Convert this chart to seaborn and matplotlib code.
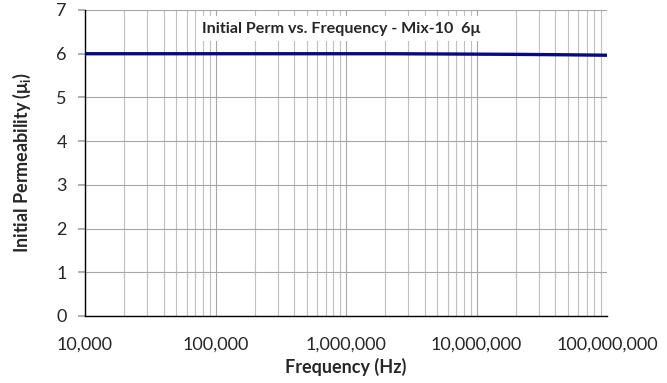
import matplotlib
matplotlib.use("Agg")
import matplotlib.pyplot as plt
import matplotlib.ticker as mticker
import seaborn as sns
import pandas as pd

freq_hz = [1e4, 2e4, 5e4, 1e5, 2e5, 5e5, 1e6, 2e6, 5e6, 1e7, 2e7, 5e7, 1e8]
perm = [6.00, 6.00, 6.00, 6.00, 6.00, 6.00, 6.00, 6.00, 5.995, 5.99, 5.985, 5.975, 5.965]
title = "Initial Perm vs. Frequency - Mix-10  6\u03bc"
xlabel = "Frequency (Hz)"
ylabel = "Initial Permeability (\u03bc$_\\mathregular{i}$)"

sns.set_theme(style="white")
plt.rcParams['font.family'] = ['Lato', 'DejaVu Sans']

fig = plt.figure(figsize=(6.67, 3.83), dpi=100)
ax = fig.add_axes([85/667, 1 - 316/383, (607 - 85)/667, (316 - 10)/383])

df = pd.DataFrame({"f": freq_hz, "p": perm})
sns.lineplot(data=df, x="f", y="p", ax=ax, color="#0a0a80", linewidth=2.4, zorder=3)

ax.set_xscale("log")
ax.set_xlim(1e4, 1e8)
ax.set_ylim(0, 7)
ax.yaxis.set_major_locator(mticker.MultipleLocator(1))
ax.xaxis.set_major_locator(mticker.LogLocator(base=10))
ax.xaxis.set_minor_locator(mticker.LogLocator(base=10, subs=range(2, 10)))
ax.xaxis.set_minor_formatter(mticker.NullFormatter())
ax.xaxis.set_major_formatter(mticker.FuncFormatter(lambda v, p: f"{int(round(v)):,}"))

ax.grid(True, which="major", axis="both", color="#a6a6a6", linewidth=0.8)
ax.grid(True, which="minor", axis="x", color="#bfbfbf", linewidth=0.8)
ax.set_axisbelow(True)

for s in ["top", "right"]:
    ax.spines[s].set_visible(False)
ax.spines["left"].set_color("black")
ax.spines["bottom"].set_color("black")
ax.spines["left"].set_linewidth(1.0)
ax.spines["bottom"].set_linewidth(1.0)

ax.tick_params(axis="y", which="major", left=True, length=5, color="#a6a6a6", labelsize=13, pad=8)
ax.tick_params(axis="x", which="both", bottom=False, labelsize=13, pad=9)

ax.set_xlabel(xlabel, fontsize=13, fontweight="bold", labelpad=4)
ax.set_ylabel(ylabel, fontsize=13, fontweight="bold", labelpad=17)

ax.text(0.49, 0.938, title, transform=ax.transAxes, ha="center", va="center",
        fontsize=11.6, fontweight="bold",
        bbox=dict(facecolor="white", edgecolor="none", pad=4), zorder=4)

fig.savefig("out.png", dpi=100)
